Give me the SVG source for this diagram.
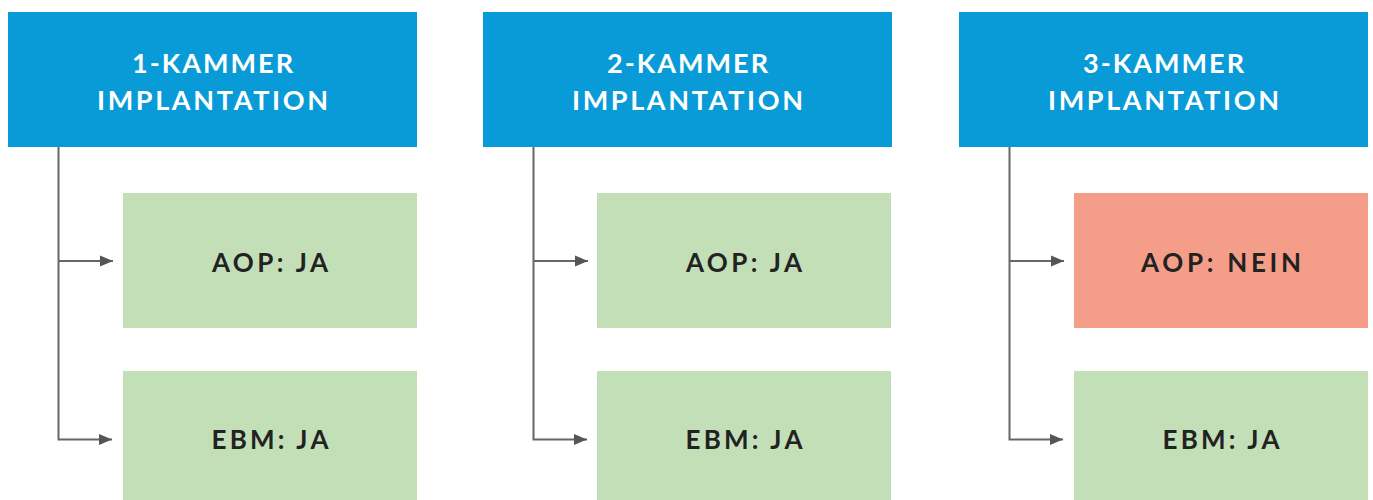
<svg xmlns="http://www.w3.org/2000/svg" width="1373" height="500" viewBox="0 0 1373 500">
<style>
.hdr{fill:#089BD7}
.ok{fill:#C2DFB7}
.no{fill:#F49E89}
.ht{font-family:Lato,"Liberation Sans",sans-serif;font-weight:700;font-size:27px;fill:#fff;text-anchor:middle}
.bt{font-family:Lato,"Liberation Sans",sans-serif;font-weight:700;font-size:26px;fill:#222;text-anchor:middle}
.ln{fill:none;stroke:#666;stroke-width:2}
</style>
<defs>
<marker id="ah" markerWidth="8" markerHeight="8" refX="6.5" refY="4" orient="auto" markerUnits="strokeWidth">
<path d="M0,1.3 L6.5,4 L0,6.7 Z" fill="#555"/>
</marker>
</defs>
<rect width="1373" height="500" fill="#fff"/>
<g id="connectors">
<path class="ln" d="M58.5,147 V439.5 H112" marker-end="url(#ah)"/>
<path class="ln" d="M58.5,261 H113" marker-end="url(#ah)"/>
<path class="ln" d="M533.5,147 V439.5 H587" marker-end="url(#ah)"/>
<path class="ln" d="M533.5,261 H588" marker-end="url(#ah)"/>
<path class="ln" d="M1009.5,147 V439.5 H1063" marker-end="url(#ah)"/>
<path class="ln" d="M1009.5,261 H1064" marker-end="url(#ah)"/>
</g>
<g id="h1">
<rect class="hdr" x="8" y="12" width="409" height="135"/>
<text class="ht" x="212.5" y="73" textLength="161" lengthAdjust="spacing">1-KAMMER</text>
<text class="ht" x="212.5" y="109.5" textLength="231" lengthAdjust="spacing">IMPLANTATION</text>
</g>
<g id="h2">
<rect class="hdr" x="483" y="12" width="409" height="135"/>
<text class="ht" x="687.5" y="73" textLength="161" lengthAdjust="spacing">2-KAMMER</text>
<text class="ht" x="687.5" y="109.5" textLength="231" lengthAdjust="spacing">IMPLANTATION</text>
</g>
<g id="h3">
<rect class="hdr" x="959" y="12" width="409" height="135"/>
<text class="ht" x="1163.5" y="73" textLength="161" lengthAdjust="spacing">3-KAMMER</text>
<text class="ht" x="1163.5" y="109.5" textLength="231" lengthAdjust="spacing">IMPLANTATION</text>
</g>
<g id="aop1">
<rect class="ok" x="123" y="193" width="294" height="135"/>
<text class="bt" x="270" y="272" textLength="116" lengthAdjust="spacing">AOP: JA</text>
</g>
<g id="ebm1">
<rect class="ok" x="123" y="371" width="294" height="135"/>
<text class="bt" x="270" y="449" textLength="117" lengthAdjust="spacing">EBM: JA</text>
</g>
<g id="aop2">
<rect class="ok" x="597" y="193" width="294" height="135"/>
<text class="bt" x="744" y="272" textLength="116" lengthAdjust="spacing">AOP: JA</text>
</g>
<g id="ebm2">
<rect class="ok" x="597" y="371" width="294" height="135"/>
<text class="bt" x="744" y="449" textLength="117" lengthAdjust="spacing">EBM: JA</text>
</g>
<g id="aop3">
<rect class="no" x="1074" y="193" width="294" height="135"/>
<text class="bt" x="1221" y="272" textLength="160" lengthAdjust="spacing">AOP: NEIN</text>
</g>
<g id="ebm3">
<rect class="ok" x="1074" y="371" width="294" height="135"/>
<text class="bt" x="1221" y="449" textLength="117" lengthAdjust="spacing">EBM: JA</text>
</g>
</svg>
